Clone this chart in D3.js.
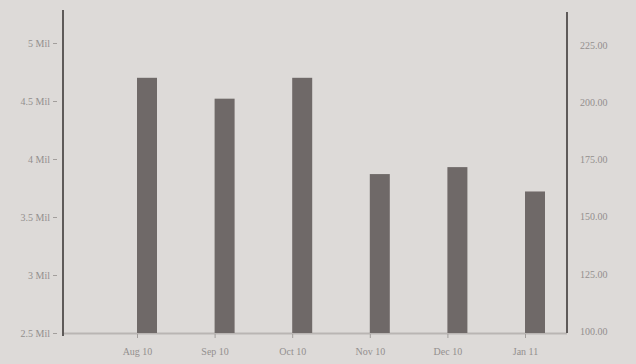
<!DOCTYPE html>
<html><head><meta charset="utf-8">
<script src="https://cdn.jsdelivr.net/npm/d3@7"></script>
<style>
html,body{margin:0;padding:0;background:#dddad8;}
svg{display:block;}
</style></head>
<body>
<script>
const categories = ["Aug 10","Sep 10","Oct 10","Nov 10","Dec 10","Jan 11"];
const values = [4.70, 4.52, 4.70, 3.87, 3.93, 3.72]; // millions
const leftTicks = [2.5, 3, 3.5, 4, 4.5, 5];
const leftTickLabels = ["2.5 Mil","3 Mil","3.5 Mil","4 Mil","4.5 Mil","5 Mil"];
const rightTicks = [100, 125, 150, 175, 200, 225];

(function () {
const W = 636, H = 364;
const svg = d3.select("body").append("svg").attr("width", W).attr("height", H);
svg.append("rect").attr("width", W).attr("height", H).attr("fill", "#dddad8");

const leftX = 63, rightX = 567, plotTop = 43, plotBottom = 333;
const x = d3.scalePoint().domain(categories).range([137, 525]);
const yL = d3.scaleLinear().domain([2.5, 5]).range([plotBottom, plotTop]);
const yR = d3.scaleLinear().domain([100, 225]).range([plotBottom - 2, plotTop + 2]);

const txt = "#938f8e";
svg.append("line").attr("x1", leftX).attr("x2", rightX).attr("y1", plotBottom + 0.5).attr("y2", plotBottom + 0.5)
  .attr("stroke", "#b9b5b3").attr("stroke-width", 2);

const bw = 20;
svg.append("g").selectAll("rect").data(values).join("rect")
  .attr("x", (d, i) => x(categories[i]))
  .attr("y", d => yL(d))
  .attr("width", bw)
  .attr("height", d => yL(2.5) - yL(d))
  .attr("fill", "#6f6968");

const gL = svg.append("g").attr("transform", `translate(${leftX - 6},0)`)
  .call(d3.axisLeft(yL).tickValues(leftTicks).tickFormat((d, i) => leftTickLabels[i]).tickSize(4).tickPadding(3).tickSizeOuter(0));
gL.selectAll(".tick line").attr("x1", 0).attr("x2", -4);
gL.select(".domain").remove();
svg.append("line").attr("x1", leftX).attr("x2", leftX).attr("y1", 10).attr("y2", 336)
  .attr("stroke", "#5e5a59").attr("stroke-width", 2);

const gR = svg.append("g").attr("transform", `translate(${rightX},0)`)
  .call(d3.axisRight(yR).tickValues(rightTicks).tickFormat(d3.format(".2f")).tickSize(0).tickPadding(13));
gR.select(".domain").remove();
svg.append("line").attr("x1", rightX).attr("x2", rightX).attr("y1", 12).attr("y2", 333)
  .attr("stroke", "#5e5a59").attr("stroke-width", 2);

const gX = svg.append("g").attr("transform", `translate(0,${plotBottom + 1})`)
  .call(d3.axisBottom(x).tickSize(4).tickPadding(10));
gX.select(".domain").remove();

svg.selectAll(".tick text").attr("fill", txt).attr("font-family", "Liberation Serif, serif").attr("font-size", 10);
svg.selectAll(".tick line").attr("stroke", "#a29e9c");
})();
</script>
</body></html>
